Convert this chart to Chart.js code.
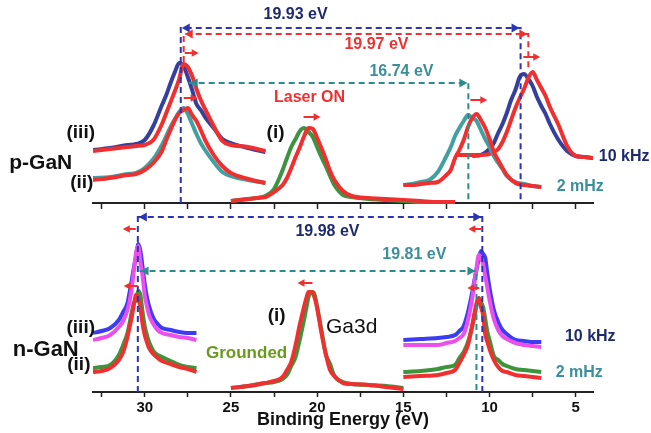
<!DOCTYPE html>
<html>
<head>
<meta charset="utf-8">
<script src="https://cdn.jsdelivr.net/npm/chart.js@4.4.1/dist/chart.umd.min.js"></script>
<style>
  html, body { margin: 0; padding: 0; background: #fff; }
  canvas { display: block; }
</style>
</head>
<body>
<canvas id="chart" width="651" height="433"></canvas>
<script>
// binding energy grids (eV) for each group of traces
const eTopLeft = [33, 32, 31, 30.5, 30, 29.5, 29, 28.75, 28.5, 28.25, 28, 27.75, 27.5, 27.25, 27, 26.75, 26.5, 26, 25.5, 25, 24, 23];
const eTopMid = [25, 24, 23.5, 23, 22.5, 22, 21.75, 21.5, 21.25, 21, 20.75, 20.5, 20.25, 20, 19.75, 19.5, 19.25, 19, 18.5, 18, 17, 16, 15, 14, 13, 12];
const eTopRightII = [15, 14.5, 14, 13.5, 13, 12.5, 12.25, 12, 11.75, 11.5, 11.25, 11, 10.75, 10.5, 10.25, 10, 9.75, 9.5, 9.25, 9, 8.5, 8, 7.5, 7];
const eTopRightIII = [12, 11.5, 11, 10.5, 10, 9.75, 9.5, 9.25, 9, 8.75, 8.5, 8.25, 8, 7.75, 7.5, 7.25, 7, 6.75, 6.5, 6, 5.5, 5, 4.5, 4];
const eBotLeft = [33, 32.5, 32, 31.5, 31.25, 31, 30.875, 30.75, 30.625, 30.5, 30.375, 30.25, 30.125, 30, 29.875, 29.75, 29.5, 29.25, 29, 28.5, 28, 27.5, 27];
const eBotMid = [25, 24, 23, 22.5, 22, 21.75, 21.5, 21.25, 21, 20.875, 20.75, 20.625, 20.5, 20.375, 20.25, 20.125, 20, 19.75, 19.5, 19.25, 19, 18.5, 18, 17, 16, 15];
const eBotRight = [15, 14, 13, 12.5, 12, 11.75, 11.5, 11.25, 11, 10.875, 10.75, 10.625, 10.5, 10.375, 10.25, 10.125, 10, 9.75, 9.5, 9.25, 9, 8.5, 8, 7.5, 7];

// p-GaN (offset intensities, arb. units)
const pIiiLeftDark = [53, 55, 58, 59, 63, 77, 98, 108, 120, 131, 140, 137, 126, 113, 99, 93, 86, 75, 64, 60, 55, 51];
const pIiiLeftLaser = [52, 54, 56, 57, 58, 63, 79, 90, 101, 112, 124, 139, 136, 127, 114, 103, 94, 77, 62, 58, 56, 52];
const pIiLeftDark = [25, 26, 29, 30, 35, 44, 58, 67, 76, 84, 91, 95, 89, 79, 69, 60, 53, 41, 31, 27, 23, 20];
const pIiLeftLaser = [23, 25, 28, 29, 33, 40, 52, 63, 73, 83, 90, 93, 95, 88, 82, 73, 63, 48, 37, 30, 24, 20];
const pIDark = [2, 4, 5, 7, 14, 33, 45, 56, 64, 72, 75, 71, 66, 56, 46, 37, 27, 18, 8, 6, 4, 3, 2, 1, 1, 1];
const pILaser = [2, 4, 5, 6, 11, 18, 25, 35, 46, 56, 67, 75, 74, 65, 55, 44, 32, 23, 12, 7, 5, 4, 3, 2, 1, 1];
const pIiRightDark = [18, 19, 21, 23, 31, 47, 56, 67, 75, 82, 88, 85, 82, 73, 64, 56, 47, 40, 34, 27, 21, 19, 17, 16];
const pIiRightLaser = [18, 18, 19, 20, 21, 28, 33, 45, 53, 63, 76, 85, 89, 83, 75, 64, 51, 43, 35, 28, 20, 18, 17, 16];
const pIiiRightDark = [null, null, 47, 48, 54, 60, 70, 79, 90, 103, 113, 126, 129, 124, 117, 106, 97, 89, 79, 63, 52, 47, 46, 45];
const pIiiRightLaser = [48, 48, 48, 48, 49, 51, 54, 61, 71, 83, 95, 105, 114, 125, 131, 123, 115, 107, 96, 78, 57, 47, 46, 45];

// n-GaN
const nIiiLeftDark = [59, 61, 64, 72, 80, 89, 100, 112, 125, 135, 148, 141, 125, 108, 95, 86, 74, 68, 64, 62, 60, 59, 59];
const nIiiLeftLaser = [52, 54, 57, 65, 71, 82, 91, 105, 122, 140, 146, 130, 116, 97, 86, 77, 68, 62, 59, 57, 55, 54, 52];
const nIiLeftDark = [24, 25, 27, 37, 47, 59, 69, 80, 89, 92, 101, 97, 80, 66, 57, 50, 41, 37, 35, 31, 27, 25, 24];
const nIiLeftLaser = [20, 21, 24, 32, 40, 55, 65, 75, 88, 97, 94, 84, 68, 57, 50, 44, 38, 34, 31, 28, 25, 23, 20];
const nIDark = [4, 6, 9, 10, 13, 17, 26, 35, 53, 63, 73, 84, 95, 99, 100, 96, 85, 62, 38, 28, 16, 10, 8, 7, 6, 4];
const nILaser = [4, 6, 9, 11, 15, 22, 30, 47, 68, 77, 86, 94, 100, 100, 99, 93, 84, 59, 38, 22, 16, 9, 8, 7, 5, 3];
const nIiiRightDark = [52, 53, 54, 55, 57, 61, 66, 80, 100, 112, 123, 133, 141, 138, 134, 118, 104, 82, 70, 62, 58, 52, 51, 50, 50];
const nIiiRightLaser = [47, 47, 47, 49, 51, 54, 58, 72, 94, 110, 125, 137, 134, 128, 116, 104, 92, 73, 62, 56, 53, 49, 47, 46, 45];
const nIiRightDark = [20, 21, 23, 25, 27, 34, 40, 50, 66, 76, 87, 94, 90, 85, 73, 60, 52, 36, 32, 28, 26, 23, 22, 21, 20];
const nIiRightLaser = [15, 16, 17, 19, 22, 29, 37, 47, 67, 79, 89, 94, 85, 77, 58, 50, 43, 32, 25, 21, 20, 17, 16, 15, 14];

const tickValues = [30, 25, 20, 15, 10, 5];

const RED = "#f03030";
const NAVY = "#1d2a6e";
const DASH_BLUE = "#2a34b4";
const TEAL = "#3a8f9a";
const TEAL_DASH = "#2b8c8c";
const FONT = '"Liberation Sans", Arial, sans-serif';

function trace(xs, ys, color, axis) {
  return {
    data: xs.map((x, i) => ({ x, y: ys[i] })),
    yAxisID: axis,
    borderColor: color,
    borderWidth: 4,
    pointRadius: 0,
    fill: false,
    cubicInterpolationMode: "monotone",
    spanGaps: false,
  };
}

const datasets = [
  trace(eTopLeft, pIiiLeftLaser, RED, "y2"),
  trace(eTopLeft, pIiiLeftDark, "#34409c", "y2"),
  trace(eTopLeft, pIiLeftLaser, RED, "y2"),
  trace(eTopLeft, pIiLeftDark, "#43a0a0", "y2"),
  trace(eTopMid, pILaser, RED, "y2"),
  trace(eTopMid, pIDark, "#3c9440", "y2"),
  trace(eTopRightII, pIiRightLaser, RED, "y2"),
  trace(eTopRightII, pIiRightDark, "#43a0a0", "y2"),
  trace(eTopRightIII, pIiiRightLaser, RED, "y2"),
  trace(eTopRightIII, pIiiRightDark, "#34409c", "y2"),
  trace(eBotLeft, nIiiLeftLaser, "#ec50ec", "y"),
  trace(eBotLeft, nIiiLeftDark, "#3c3cf2", "y"),
  trace(eBotLeft, nIiLeftLaser, RED, "y"),
  trace(eBotLeft, nIiLeftDark, "#3c943c", "y"),
  trace(eBotMid, nILaser, RED, "y"),
  trace(eBotMid, nIDark, "#3c943c", "y"),
  trace(eBotRight, nIiiRightLaser, "#ec50ec", "y"),
  trace(eBotRight, nIiiRightDark, "#3c3cf2", "y"),
  trace(eBotRight, nIiRightLaser, RED, "y"),
  trace(eBotRight, nIiRightDark, "#3c943c", "y"),
];

// dashed guide lines: [axis, color, [[eV, value], ...], arrow heads]
const guides = [
  ["y2", DASH_BLUE, [[27.91, 0], [27.91, 175], [8.2, 175], [8.2, 0]], [[27.91, 175, -1], [8.2, 175, 1]]],
  ["y2", RED, [[27.74, 141], [27.74, 169], [7.75, 169], [7.75, 133]], [[27.74, 169, -1], [7.75, 169, 1]]],
  ["y2", TEAL_DASH, [[27.45, 120], [11.23, 120], [11.23, 0]], [[27.45, 120, -1], [11.23, 120, 1]]],
  ["y", DASH_BLUE, [[30.4, 0], [30.4, 179]], []],
  ["y", DASH_BLUE, [[30.4, 175], [10.42, 175]], [[30.4, 175, -1], [10.42, 175, 1]]],
  ["y", DASH_BLUE, [[10.42, 0], [10.42, 179]], []],
  ["y", TEAL_DASH, [[30.3, 121], [10.76, 121], [10.76, 0]], [[30.3, 121, -1], [10.76, 121, 1]]],
];

// small red shift arrows: [axis, from eV, to eV, value]
const shifts = [
  ["y2", 27.68, 26.87, 150],
  ["y2", 27.74, 26.93, 105],
  ["y2", 20.79, 19.8, 86],
  ["y2", 11.11, 10.13, 103],
  ["y2", 8.04, 7.06, 146],
  ["y", 30.52, 31.27, 163],
  ["y", 30.41, 31.22, 106],
  ["y", 20.27, 21.14, 109],
  ["y", 10.42, 11.23, 163],
  ["y", 10.6, 11.29, 104],
];

// labels: [axis, eV, value, text, color, font]
const labels = [
  ["y2", 21.25, 188, "19.93 eV", NAVY, "bold 16px"],
  ["y2", 16.56, 158, "19.97 eV", RED, "bold 16px"],
  ["y2", 15.11, 131, "16.74 eV", TEAL, "bold 16px"],
  ["y2", 20.44, 105, "Laser ON", RED, "bold 16px"],
  ["y2", 33.71, 70, "(iii)", "#111", "bold 19px"],
  ["y2", 22.41, 70, "(i)", "#111", "bold 19px"],
  ["y2", 36.03, 40, "p-GaN", "#111", "bold 21px"],
  ["y2", 33.65, 20, "(ii)", "#111", "bold 19px"],
  ["y2", 2.19, 46, "10 kHz", NAVY, "bold 16px"],
  ["y2", 4.74, 16, "2 mHz", TEAL, "bold 16px"],
  ["y", 19.4, 160, "19.98 eV", NAVY, "bold 16px"],
  ["y", 14.36, 137, "19.81 eV", TEAL, "bold 16px"],
  ["y", 33.71, 64, "(iii)", "#111", "bold 19px"],
  ["y", 35.74, 42, "n-GaN", "#111", "bold 22px"],
  ["y", 33.82, 27, "(ii)", "#111", "bold 19px"],
  ["y", 22.35, 76, "(i)", "#111", "bold 19px"],
  ["y", 18.0, 65, "Ga3d", "#111", "21px"],
  ["y", 24.09, 39, "Grounded", "#6a9a1c", "bold 17px"],
  ["y", 4.16, 55, "10 kHz", NAVY, "bold 16px"],
  ["y", 4.8, 19, "2 mHz", TEAL, "bold 16px"],
];

function head(ctx, x, y, dir, size) {
  ctx.beginPath();
  ctx.moveTo(x, y);
  ctx.lineTo(x - dir * size, y - size * 0.55);
  ctx.lineTo(x - dir * size, y + size * 0.55);
  ctx.closePath();
  ctx.fill();
}

const overlays = {
  id: "overlays",
  afterDatasetsDraw(chart) {
    const { ctx, scales } = chart;
    const px = (v) => scales.x.getPixelForValue(v);
    ctx.save();

    guides.forEach(([axis, color, pts, heads]) => {
      const py = (v) => scales[axis].getPixelForValue(v);
      ctx.strokeStyle = color;
      ctx.fillStyle = color;
      ctx.lineWidth = 2;
      ctx.setLineDash([6, 4]);
      ctx.beginPath();
      pts.forEach(([e, v], i) => (i ? ctx.lineTo(px(e), py(v)) : ctx.moveTo(px(e), py(v))));
      ctx.stroke();
      ctx.setLineDash([]);
      heads.forEach(([e, v, dir]) => head(ctx, px(e) + (dir < 0 ? 1 : -1), py(v), dir, 8));
    });

    ctx.strokeStyle = RED;
    ctx.fillStyle = RED;
    ctx.lineWidth = 2;
    shifts.forEach(([axis, from, to, v]) => {
      const y = scales[axis].getPixelForValue(v);
      const x0 = px(from), x1 = px(to);
      const dir = x1 > x0 ? 1 : -1;
      ctx.beginPath();
      ctx.moveTo(x0, y);
      ctx.lineTo(x1 - dir * 5, y);
      ctx.stroke();
      head(ctx, x1, y, dir, 7);
    });

    ctx.textAlign = "center";
    ctx.textBaseline = "middle";
    labels.forEach(([axis, e, v, text, color, font]) => {
      ctx.font = font + " " + FONT;
      ctx.fillStyle = color;
      ctx.fillText(text, px(e), scales[axis].getPixelForValue(v));
    });
    ctx.restore();
  },
};

const xCommon = {
  type: "linear",
  min: 4,
  max: 33,
  reverse: true,
  border: { color: "#222", width: 2 },
  grid: { drawOnChartArea: false, tickLength: 5, tickWidth: 1.5, tickColor: "#222" },
};

new Chart(document.getElementById("chart"), {
  type: "line",
  data: { datasets },
  options: {
    responsive: false,
    animation: false,
    layout: { padding: { left: 93, right: 58, top: 0, bottom: 0 } },
    scales: {
      x: {
        ...xCommon,
        position: "bottom",
        afterFit: (scale) => { scale.height = 41; },
        ticks: {
          stepSize: 2.5,
          includeBounds: false,
          autoSkip: false,
          maxRotation: 0,
          padding: 2,
          color: "#111",
          font: { family: FONT, size: 15, weight: "bold" },
          callback: (v) => (tickValues.includes(v) ? String(v) : ""),
        },
        title: {
          display: true,
          text: "Binding Energy (eV)",
          color: "#111",
          font: { family: FONT, size: 18, weight: "bold" },
          padding: { top: 0, bottom: 2 },
        },
      },
      x2: {
        ...xCommon,
        position: { y2: 0 },
        ticks: { stepSize: 2.5, includeBounds: false, display: false },
      },
      y: { type: "linear", min: 0, max: 392, display: false },
      y2: { type: "linear", min: -189, max: 203, display: false },
    },
    plugins: {
      legend: { display: false },
      tooltip: { enabled: false },
    },
  },
  plugins: [overlays],
});
</script>
</body>
</html>
